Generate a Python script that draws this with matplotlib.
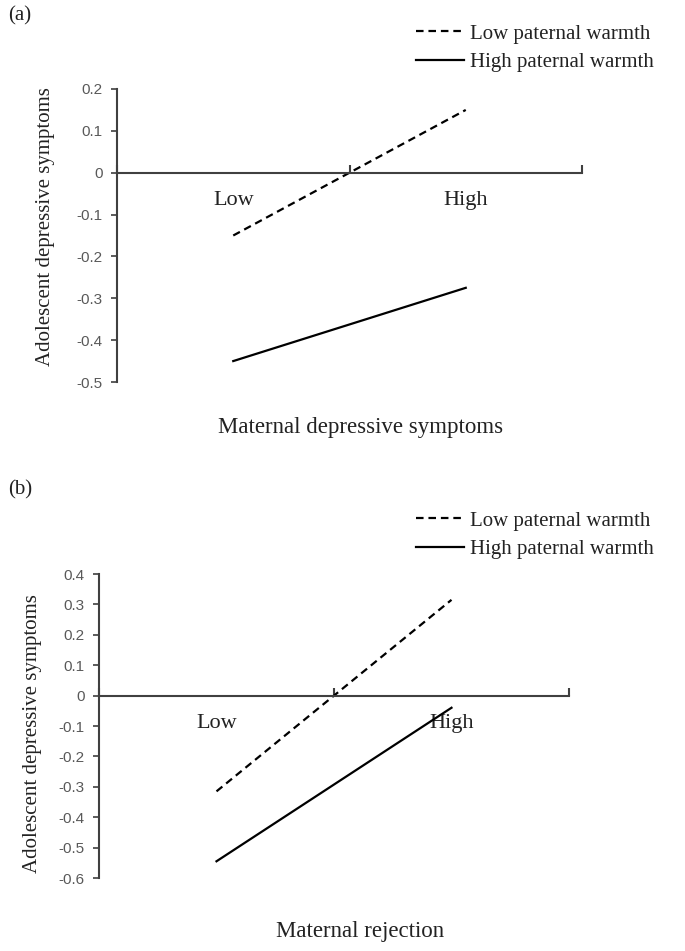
import matplotlib
matplotlib.use("Agg")
import matplotlib.pyplot as plt

# ---- data ----
categories = ["Low", "High"]
panel_tags = ["(a)", "(b)"]
x_titles = ["Maternal depressive symptoms", "Maternal rejection"]
y_title = "Adolescent depressive symptoms"
series_names = ["Low paternal warmth", "High paternal warmth"]

low_warmth_a = [-0.15, 0.15]
high_warmth_a = [-0.45, -0.275]
low_warmth_b = [-0.315, 0.315]
high_warmth_b = [-0.545, -0.04]

yticks_a = [-0.5, -0.4, -0.3, -0.2, -0.1, 0, 0.1, 0.2]
yticks_b = [-0.6, -0.5, -0.4, -0.3, -0.2, -0.1, 0, 0.1, 0.2, 0.3, 0.4]

SERIF = ["Liberation Serif", "DejaVu Serif"]
SANS = ["Liberation Sans", "DejaVu Sans"]
AXIS_COL = "#404040"

W, H = 685, 951
fig = plt.figure(figsize=(W / 100, H / 100), dpi=100)


def px_rect(left, right, top, bottom):
    return [left / W, 1 - bottom / H, (right - left) / W, (bottom - top) / H]


def draw_panel(rect, low_vals, high_vals, yticks, xtitle, xlab_xy, ylab_xy):
    ax = fig.add_axes(rect)
    xs = [0.5, 1.5]
    l1, = ax.plot(xs, low_vals, color="black", lw=1.6, linestyle=(0, (3.4, 2.2)),
                  label=series_names[0])
    l2, = ax.plot(xs, high_vals, color="black", lw=1.6, label=series_names[1])
    ax.set_xlim(0, 2)
    ax.set_ylim(min(yticks), max(yticks))

    for s in ["top", "right"]:
        ax.spines[s].set_visible(False)
    ax.spines["left"].set_color(AXIS_COL)
    ax.spines["left"].set_linewidth(1.5)
    ax.spines["bottom"].set_position(("data", 0))
    ax.spines["bottom"].set_color(AXIS_COL)
    ax.spines["bottom"].set_linewidth(1.5)

    ax.set_yticks(yticks)
    ax.set_yticklabels([("%g" % v) for v in yticks], family=SANS, fontsize=11,
                       color="#595959")
    ax.tick_params(axis="y", direction="out", length=4.5, width=1.2,
                   color=AXIS_COL, pad=6)

    ax.set_xticks([0, 1, 2])
    ax.set_xticklabels(["", "", ""])
    ax.tick_params(axis="x", which="major", direction="in", length=6, width=1.5,
                   color=AXIS_COL)
    ax.set_xticks(xs, minor=True)
    ax.set_xticklabels(categories, minor=True, family=SERIF, fontsize=16,
                       color="#222222")
    ax.tick_params(axis="x", which="minor", length=0, pad=13)

    ax.set_ylabel(y_title, family=SERIF, fontsize=15, color="#222222")
    ax.yaxis.set_label_coords(*ylab_xy)
    ax.set_xlabel(xtitle, family=SERIF, fontsize=16.5, color="#222222")
    ax.xaxis.set_label_coords(*xlab_xy)
    return ax, [l1, l2]


ax_a, h_a = draw_panel(px_rect(117, 582, 89, 382), low_warmth_a, high_warmth_a,
                       yticks_a, x_titles[0], (0.523, -0.118), (-0.133, 0.53))
ax_b, h_b = draw_panel(px_rect(99, 569, 574, 878), low_warmth_b, high_warmth_b,
                       yticks_b, x_titles[1], (0.555, -0.14), (-0.121, 0.474))

for ax, handles, top in [(ax_a, h_a, 24), (ax_b, h_b, 511)]:
    leg = ax.legend(handles=handles, loc="upper left",
                    bbox_to_anchor=(416 / W, 1 - top / H),
                    bbox_transform=fig.transFigure, frameon=False,
                    prop={"family": SERIF, "size": 15},
                    handlelength=2.3, handletextpad=0.3, labelspacing=0.42,
                    borderpad=0, borderaxespad=0)
    for t in leg.get_texts():
        t.set_color("#222222")

fig.text(8 / W, 1 - 16 / H, panel_tags[0], family=SERIF, fontsize=15,
         va="center", ha="left", color="#222222")
fig.text(8 / W, 1 - 490 / H, panel_tags[1], family=SERIF, fontsize=15,
         va="center", ha="left", color="#222222")

fig.savefig("out.png", dpi=100, facecolor="white")
